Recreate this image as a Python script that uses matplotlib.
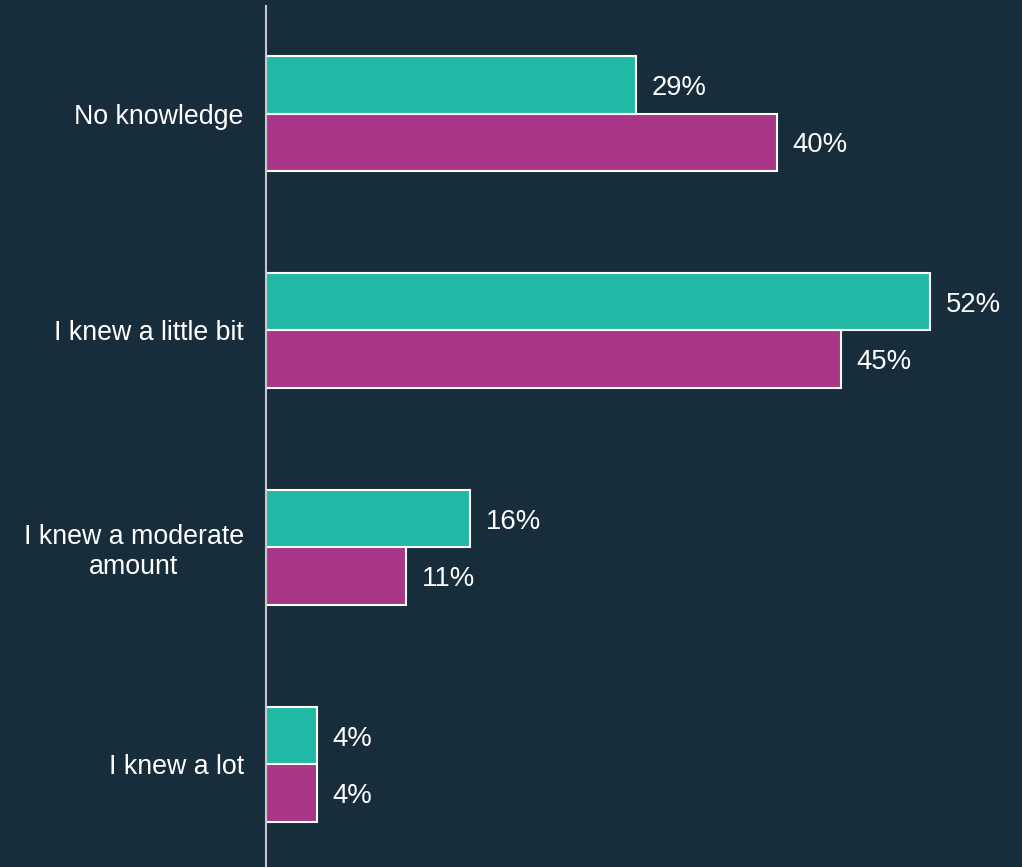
import matplotlib.pyplot as plt
import numpy as np

categories = ["No knowledge", "I knew a little bit", "I knew a moderate\namount", "I knew a lot"]
series_a = [29, 52, 16, 4]
series_b = [40, 45, 11, 4]

bg = "#172d3b"
teal = "#21b9a5"
magenta = "#a83588"

plt.rcParams["font.family"] = ["Liberation Sans", "DejaVu Sans"]

fig = plt.figure(figsize=(10.22, 8.67), dpi=100, facecolor=bg)
ax = fig.add_axes([266 / 1022, 0, 756 / 1022, 861 / 867])
ax.set_facecolor(bg)

y = np.arange(len(categories))
h = 0.263
bars_a = ax.barh(y - h / 2, series_a, height=h, color=teal, edgecolor="white", linewidth=1.5)
bars_b = ax.barh(y + h / 2, series_b, height=h, color=magenta, edgecolor="white", linewidth=1.5)

# value labels just right of each bar
for bars, vals in ((bars_a, series_a), (bars_b, series_b)):
    for b, v in zip(bars, vals):
        ax.text(v + 1.2, b.get_y() + b.get_height() / 2, f"{v}%", va="center_baseline", ha="left",
                color="white", fontsize=19.8)

ax.set_xlim(0, 59.2)
ax.set_ylim(3.4724, -0.4954)
ax.set_yticks(y)
ax.set_yticklabels(categories, color="white", fontsize=19.3, ha="right", multialignment="center")
ax.tick_params(axis="y", length=0, pad=16)
ax.set_xticks([])
for s in ("top", "right", "bottom"):
    ax.spines[s].set_visible(False)
ax.spines["left"].set_color("#c8c8c8")
ax.spines["left"].set_linewidth(1.5)

fig.savefig("out.png", dpi=100, facecolor=bg)
